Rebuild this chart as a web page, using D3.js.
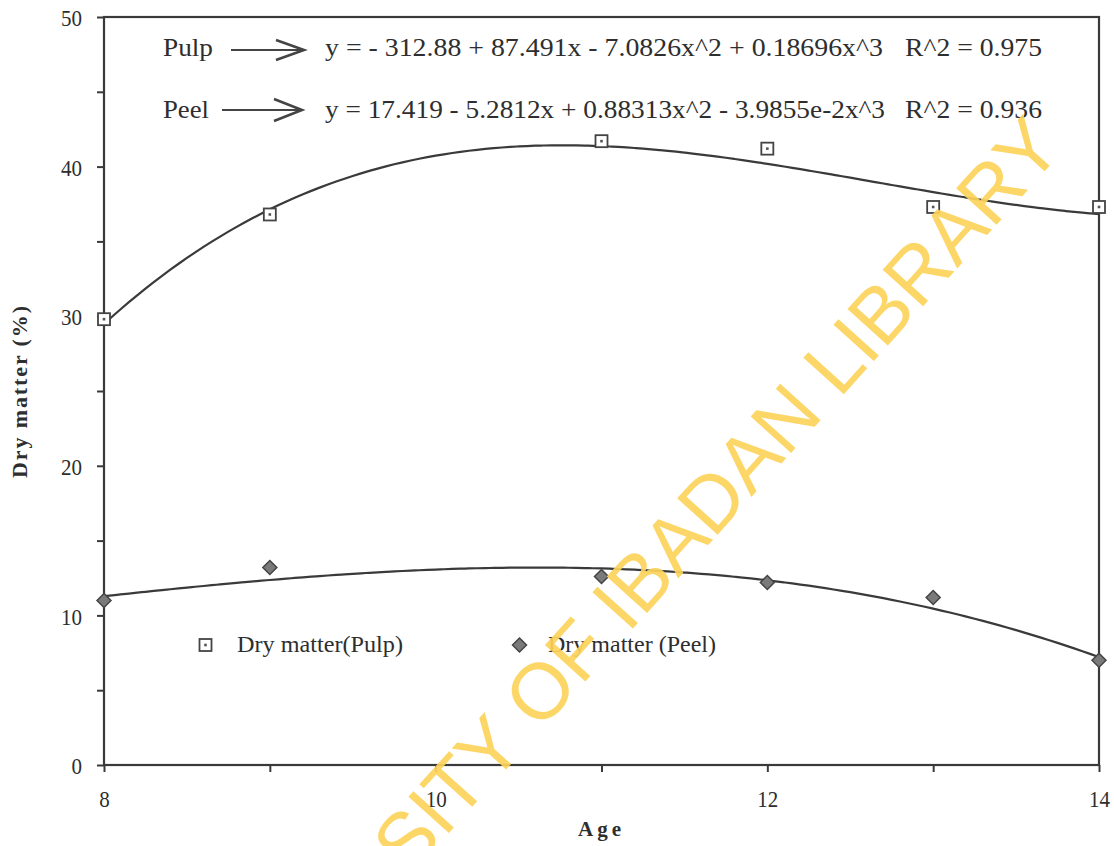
<!DOCTYPE html>
<html>
<head>
<meta charset="utf-8">
<script src="https://cdn.jsdelivr.net/npm/d3@7"></script>
<style>
  html, body { margin: 0; padding: 0; background: #ffffff; }
  svg { display: block; }
</style>
</head>
<body>
<svg id="chart" width="1114" height="846"></svg>
<script>
// Plant age (x) and dry matter content (%) of pulp and peel
const ages = [8, 9, 11, 12, 13, 14];
const pulpValues = [29.8, 36.8, 41.7, 41.2, 37.3, 37.3];
const peelValues = [11.0, 13.2, 12.6, 12.2, 11.2, 7.0];

// Cubic fit coefficients (c0 + c1 x + c2 x^2 + c3 x^3), as printed on the chart
const pulpFit = [-312.88, 87.491, -7.0826, 0.18696];
const peelFit = [17.419, -5.2812, 0.88313, -3.9855e-2];
const pulpEquation = "y =  - 312.88 + 87.491x - 7.0826x^2 + 0.18696x^3";
const peelEquation = "y = 17.419 - 5.2812x + 0.88313x^2 - 3.9855e-2x^3";
const pulpR2 = "R^2 = 0.975";
const peelR2 = "R^2 = 0.936";

const xTicks = [8, 9, 10, 11, 12, 13, 14];
const xLabels = [8, 10, 12, 14];
const yTicks = [0, 5, 10, 15, 20, 25, 30, 35, 40, 45, 50];
const yLabels = [0, 10, 20, 30, 40, 50];

const svg = d3.select("#chart");
const serif = "'Liberation Serif', 'Times New Roman', serif";
const ink = "#3a3a3a";
const textInk = "#2e2e2e";

const plotLeft = 104, plotRight = 1099, plotTop = 17, plotBottom = 765;
const x = d3.scaleLinear().domain([8, 14]).range([plotLeft, plotRight]);
const y = d3.scaleLinear().domain([0, 50]).range([plotBottom, plotTop]);

// Frame
svg.append("rect")
  .attr("x", plotLeft).attr("y", plotTop)
  .attr("width", plotRight - plotLeft).attr("height", plotBottom - plotTop)
  .attr("fill", "none").attr("stroke", ink).attr("stroke-width", 2.2);

// Axes: ticks every unit / every 5 %, labels on alternate ticks
const xAxis = svg.append("g").attr("transform", `translate(0,${plotBottom})`)
  .call(d3.axisBottom(x).tickValues(xTicks).tickSize(7)
    .tickFormat(d => xLabels.includes(d) ? d : ""));
const yAxis = svg.append("g").attr("transform", `translate(${plotLeft},0)`)
  .call(d3.axisLeft(y).tickValues(yTicks).tickSize(7)
    .tickFormat(d => yLabels.includes(d) ? d : ""));
[xAxis, yAxis].forEach(g => {
  g.select(".domain").remove();
  g.selectAll(".tick line").attr("stroke", ink).attr("stroke-width", 2);
  g.selectAll(".tick text").attr("fill", textInk)
    .style("font-family", serif).style("font-size", "24px")
    .attr("lengthAdjust", "spacingAndGlyphs")
    .each(function () {
      const n = this.textContent.length;
      if (n) d3.select(this).attr("textLength", n * 10.5);
    });
});
xAxis.selectAll(".tick text").attr("y", 0).attr("dy", 0).attr("transform", "translate(0,42)");
yAxis.selectAll(".tick text").attr("x", -22).attr("dy", "0.36em");

// Axis titles
svg.append("text")
  .attr("x", 578).attr("y", 836)
  .style("font-family", serif).style("font-size", "21px")
  .style("font-weight", "bold").style("letter-spacing", "4px")
  .attr("fill", textInk).text("Age");
svg.append("text")
  .attr("transform", `translate(27,392) rotate(-90)`)
  .attr("text-anchor", "middle")
  .style("font-family", serif).style("font-size", "22px")
  .style("font-weight", "bold")
  .attr("textLength", 172).attr("lengthAdjust", "spacing")
  .attr("fill", textInk).text("Dry matter (%)");

// Fitted curves
const poly = c => t => c[0] + c[1] * t + c[2] * t * t + c[3] * t * t * t;
const samples = d3.range(8, 14.0001, 0.05);
const line = d3.line().x(d => x(d[0])).y(d => y(d[1])).curve(d3.curveMonotoneX);
[pulpFit, peelFit].forEach(c => {
  const f = poly(c);
  svg.append("path")
    .datum(samples.map(t => [t, f(t)]))
    .attr("d", line)
    .attr("fill", "none").attr("stroke", ink).attr("stroke-width", 2.2);
});

// Markers
const drawSquare = (g, cx, cy) => {
  g.append("rect").attr("x", cx - 6).attr("y", cy - 6)
    .attr("width", 12).attr("height", 12)
    .attr("fill", "#fff").attr("stroke", "#444").attr("stroke-width", 1.8);
  g.append("rect").attr("x", cx - 1.3).attr("y", cy - 1.3)
    .attr("width", 2.6).attr("height", 2.6).attr("fill", "#555");
};
const drawDiamond = (g, cx, cy) => {
  g.append("path")
    .attr("d", `M${cx},${cy - 7}L${cx + 7},${cy}L${cx},${cy + 7}L${cx - 7},${cy}Z`)
    .attr("fill", "#7a7a7a").attr("stroke", "#444").attr("stroke-width", 1.5);
};
const marks = svg.append("g");
ages.forEach((a, i) => drawSquare(marks, x(a), y(pulpValues[i])));
ages.forEach((a, i) => drawDiamond(marks, x(a), y(peelValues[i])));

// Legend
const legend = svg.append("g");
const legendFont = t => t.style("font-family", serif).style("font-size", "23px")
  .attr("fill", textInk).attr("lengthAdjust", "spacingAndGlyphs");
drawSquare(legend, 205.5, 645);
drawDiamond(legend, 519.5, 645);
legend.append("text").attr("x", 237).attr("y", 652).call(legendFont)
  .attr("textLength", 166).text("Dry matter(Pulp)");
legend.append("text").attr("x", 548).attr("y", 652).call(legendFont)
  .attr("textLength", 168).text("Dry matter (Peel)");

// Equation annotations with arrows
const annot = svg.append("g");
const eqFont = (t, w) => t.style("font-family", serif).style("font-size", "25px")
  .attr("fill", textInk).attr("textLength", w).attr("lengthAdjust", "spacingAndGlyphs");
const arrow = (x0, x1, yy, h) => {
  annot.append("line").attr("x1", x0).attr("x2", x1).attr("y1", yy).attr("y2", yy)
    .attr("stroke", "#444").attr("stroke-width", 2);
  annot.append("path")
    .attr("d", `M${x1 - 28},${yy - h}L${x1},${yy}L${x1 - 28},${yy + h}`)
    .attr("fill", "none").attr("stroke", "#444").attr("stroke-width", 2.6);
};
annot.append("text").attr("x", 163).attr("y", 56).call(eqFont, 50).text("Pulp");
arrow(231, 304, 50, 10);
annot.append("text").attr("x", 325).attr("y", 56).call(eqFont, 558).text(pulpEquation);
annot.append("text").attr("x", 905).attr("y", 56).call(eqFont, 137).text(pulpR2);
annot.append("text").attr("x", 163).attr("y", 118).call(eqFont, 46).text("Peel");
arrow(222, 302, 110, 11);
annot.append("text").attr("x", 325).attr("y", 118).call(eqFont, 560).text(peelEquation);
annot.append("text").attr("x", 905).attr("y", 118).call(eqFont, 137).text(peelR2);

// Library watermark
const wmPrefix = "UNIVERSITY OF ";
const wmText = "UNIVERSITY OF IBADAN LIBRARY";
const wm = svg.append("g").attr("transform", "translate(628,634) rotate(-48)");
const wmStyle = t => t.style("font-family", "'Liberation Sans', Arial, sans-serif")
  .style("font-size", "79px").attr("fill", "#FCD25A").attr("fill-opacity", 0.92);
const probe = wm.append("text").call(wmStyle).text(wmPrefix.replace(/ $/, "\u00a0"));
const prefixWidth = probe.node().getComputedTextLength();
probe.remove();
wm.append("text").attr("x", -prefixWidth).attr("y", 0).call(wmStyle).text(wmText);
</script>
</body>
</html>
